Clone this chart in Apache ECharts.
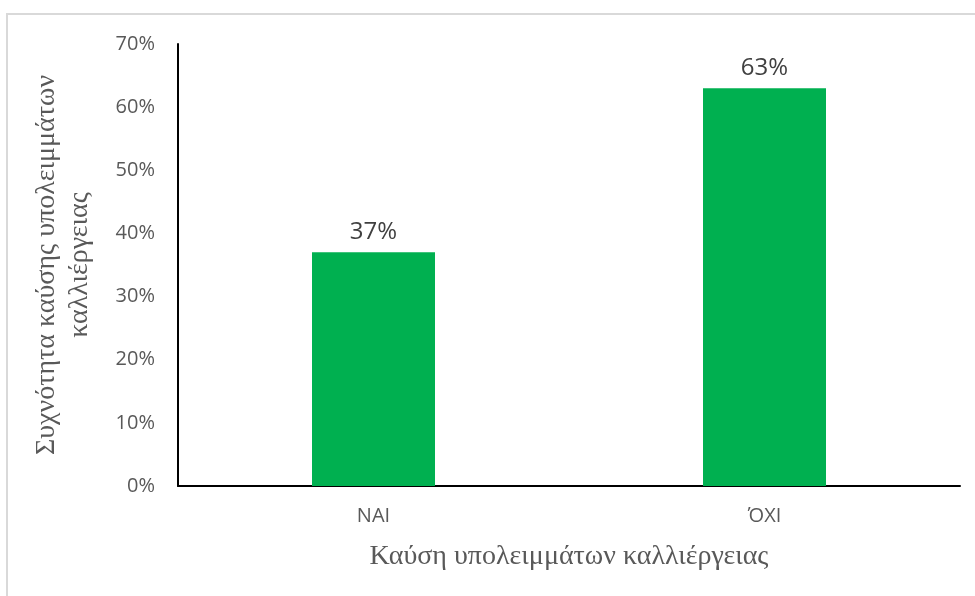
<!DOCTYPE html>
<html>
<head>
<meta charset="utf-8">
<style>
  html, body { margin: 0; padding: 0; background: #ffffff; }
  #chart { width: 975px; height: 596px; }
</style>
<script src="https://cdn.jsdelivr.net/npm/echarts@6/dist/echarts.min.js"></script>
</head>
<body>
<div id="chart"></div>
<script>
// Share of respondents who burn crop residues
const categories = ['NAI', 'ΌΧΙ'];
const shares = [37, 63];           // percent
const yTicks = { min: 0, max: 70, interval: 10 };

const xTitle = 'Καύση υπολειμμάτων καλλιέργειας';
const yTitle = 'Συχνότητα καύσης υπολειμμάτων\nκαλλιέργειας';

const chart = echarts.init(document.getElementById('chart'), null, { renderer: 'canvas' });

const sans = '"Open Sans", "Noto Sans", sans-serif';
const serif = '"Liberation Serif", "DejaVu Serif", serif';

chart.setOption({
  animation: false,
  backgroundColor: '#ffffff',
  graphic: [{
    type: 'rect',
    shape: { x: 7, y: 14, width: 1000, height: 620 },
    style: { fill: 'none', stroke: '#d9d9d9', lineWidth: 2 },
    silent: true,
    z: -1
  }],
  grid: { left: 178, right: 15, top: 44, bottom: 110, containLabel: false },
  xAxis: {
    type: 'category',
    data: categories,
    axisLine: { show: true, lineStyle: { color: '#000000', width: 2 } },
    axisTick: { show: false },
    axisLabel: { color: '#595959', fontFamily: sans, fontSize: 20, margin: 20 },
    name: xTitle,
    nameLocation: 'middle',
    nameGap: 57,
    nameTextStyle: { color: '#595959', fontFamily: serif, fontSize: 28 }
  },
  yAxis: {
    type: 'value',
    min: yTicks.min,
    max: yTicks.max,
    interval: yTicks.interval,
    axisLine: { show: true, lineStyle: { color: '#000000', width: 2 } },
    axisTick: { show: false },
    splitLine: { show: false },
    axisLabel: {
      color: '#595959', fontFamily: sans, fontSize: 20, margin: 23,
      formatter: v => v + '%'
    },
    name: yTitle,
    nameLocation: 'middle',
    nameRotate: 90,
    nameGap: 82,
    nameTextStyle: { color: '#595959', fontFamily: serif, fontSize: 28, lineHeight: 33, align: 'center' }
  },
  series: [{
    type: 'bar',
    data: shares,
    barWidth: 123,
    itemStyle: { color: '#00b050' },
    label: {
      show: true,
      position: 'top',
      distance: 8,
      color: '#404040',
      fontFamily: sans,
      fontSize: 24,
      formatter: p => p.value + '%'
    }
  }]
});
</script>
</body>
</html>
